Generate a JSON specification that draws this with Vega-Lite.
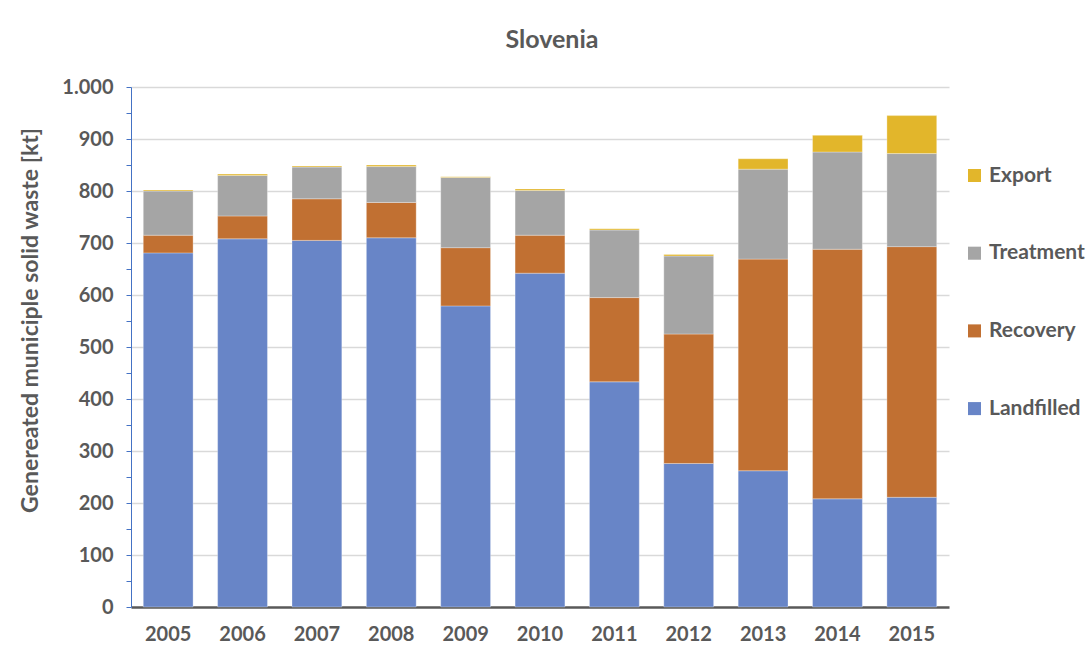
{
  "$schema": "https://vega.github.io/schema/vega-lite/v6.json",
  "autosize": "none",
  "width": 818,
  "height": 520,
  "padding": {"left": 131, "top": 87, "right": 141, "bottom": 52},
  "background": "#ffffff",
  "config": {
    "font": "Lato",
    "view": {"stroke": null},
    "axis": {"labelFont": "Lato", "titleFont": "Lato", "labelColor": "#595959", "titleColor": "#595959"}
  },
  "title": {
    "text": "Slovenia",
    "fontSize": 25,
    "font": "Lato",
    "fontWeight": "bold",
    "color": "#595959",
    "anchor": "middle",
    "dx": 12,
    "offset": 24
  },
  "data": {
    "values": [
      {"year": "2005", "type": "Landfilled", "kt": 681, "rank": 1},
      {"year": "2005", "type": "Recovery", "kt": 34, "rank": 2},
      {"year": "2005", "type": "Treatment", "kt": 85, "rank": 3},
      {"year": "2005", "type": "Export", "kt": 2, "rank": 4},
      {"year": "2006", "type": "Landfilled", "kt": 708, "rank": 1},
      {"year": "2006", "type": "Recovery", "kt": 44, "rank": 2},
      {"year": "2006", "type": "Treatment", "kt": 78, "rank": 3},
      {"year": "2006", "type": "Export", "kt": 2.5, "rank": 4},
      {"year": "2007", "type": "Landfilled", "kt": 705, "rank": 1},
      {"year": "2007", "type": "Recovery", "kt": 80, "rank": 2},
      {"year": "2007", "type": "Treatment", "kt": 61, "rank": 3},
      {"year": "2007", "type": "Export", "kt": 2, "rank": 4},
      {"year": "2008", "type": "Landfilled", "kt": 710, "rank": 1},
      {"year": "2008", "type": "Recovery", "kt": 68, "rank": 2},
      {"year": "2008", "type": "Treatment", "kt": 69, "rank": 3},
      {"year": "2008", "type": "Export", "kt": 3, "rank": 4},
      {"year": "2009", "type": "Landfilled", "kt": 579, "rank": 1},
      {"year": "2009", "type": "Recovery", "kt": 112, "rank": 2},
      {"year": "2009", "type": "Treatment", "kt": 135, "rank": 3},
      {"year": "2009", "type": "Export", "kt": 1.5, "rank": 4},
      {"year": "2010", "type": "Landfilled", "kt": 642, "rank": 1},
      {"year": "2010", "type": "Recovery", "kt": 73, "rank": 2},
      {"year": "2010", "type": "Treatment", "kt": 86, "rank": 3},
      {"year": "2010", "type": "Export", "kt": 3, "rank": 4},
      {"year": "2011", "type": "Landfilled", "kt": 433, "rank": 1},
      {"year": "2011", "type": "Recovery", "kt": 162, "rank": 2},
      {"year": "2011", "type": "Treatment", "kt": 130, "rank": 3},
      {"year": "2011", "type": "Export", "kt": 2.5, "rank": 4},
      {"year": "2012", "type": "Landfilled", "kt": 276, "rank": 1},
      {"year": "2012", "type": "Recovery", "kt": 249, "rank": 2},
      {"year": "2012", "type": "Treatment", "kt": 150, "rank": 3},
      {"year": "2012", "type": "Export", "kt": 3, "rank": 4},
      {"year": "2013", "type": "Landfilled", "kt": 262, "rank": 1},
      {"year": "2013", "type": "Recovery", "kt": 407, "rank": 2},
      {"year": "2013", "type": "Treatment", "kt": 173, "rank": 3},
      {"year": "2013", "type": "Export", "kt": 20, "rank": 4},
      {"year": "2014", "type": "Landfilled", "kt": 208, "rank": 1},
      {"year": "2014", "type": "Recovery", "kt": 480, "rank": 2},
      {"year": "2014", "type": "Treatment", "kt": 187, "rank": 3},
      {"year": "2014", "type": "Export", "kt": 32, "rank": 4},
      {"year": "2015", "type": "Landfilled", "kt": 211, "rank": 1},
      {"year": "2015", "type": "Recovery", "kt": 482, "rank": 2},
      {"year": "2015", "type": "Treatment", "kt": 179, "rank": 3},
      {"year": "2015", "type": "Export", "kt": 73, "rank": 4}
    ]
  },
  "mark": {"type": "bar", "stroke": "#ffffff", "strokeWidth": 0.6, "strokeOpacity": 0.5},
  "encoding": {
    "x": {
      "field": "year",
      "type": "nominal",
      "title": null,
      "scale": {"paddingInner": 0.33, "paddingOuter": 0.165},
      "axis": {
        "labelAngle": 0,
        "labelFontSize": 20,
        "labelFontWeight": "bold",
        "labelPadding": 17,
        "ticks": false,
        "domainColor": "#595959",
        "domainWidth": 2.5
      }
    },
    "y": {
      "field": "kt",
      "type": "quantitative",
      "stack": "zero",
      "title": "Genereated municiple solid waste [kt]",
      "scale": {"domain": [0, 1000], "nice": false},
      "axis": {
        "values": [0, 50, 100, 150, 200, 250, 300, 350, 400, 450, 500, 550, 600, 650, 700, 750, 800, 850, 900, 950, 1000],
        "labelExpr": "datum.value % 100 === 0 ? (datum.value === 1000 ? '1.000' : datum.label) : ''",
        "labelFontSize": 20,
        "labelFontWeight": "bold",
        "labelPadding": 13,
        "tickColor": "#4472C4",
        "tickSize": 5,
        "domainColor": "#4472C4",
        "domainWidth": 1,
        "gridColor": "#D9D9D9",
        "gridWidth": 1.3,
        "gridOpacity": {"condition": {"test": "datum.value % 100 === 0 && datum.value > 0", "value": 1}, "value": 0},
        "titleFontSize": 23,
        "titleFontWeight": "bold",
        "titleX": -89,
        "titleY": 233,
        "titleAngle": -90,
        "titleBaseline": "bottom",
        "titleAnchor": "middle"
      }
    },
    "color": {
      "field": "type",
      "type": "nominal",
      "scale": {
        "domain": ["Export", "Treatment", "Recovery", "Landfilled"],
        "range": ["#E2B62B", "#A5A5A5", "#C17032", "#6885C7"]
      },
      "legend": {
        "title": null,
        "orient": "none",
        "legendX": 833,
        "legendY": 78,
        "symbolType": "square",
        "symbolSize": 170,
        "symbolStrokeWidth": 0,
        "labelFontSize": 21,
        "labelFontWeight": "bold",
        "labelColor": "#595959",
        "labelFont": "Lato",
        "labelOffset": 4,
        "rowPadding": 55.7,
        "padding": 0
      }
    },
    "order": {"field": "rank", "type": "quantitative", "sort": "ascending"}
  }
}
